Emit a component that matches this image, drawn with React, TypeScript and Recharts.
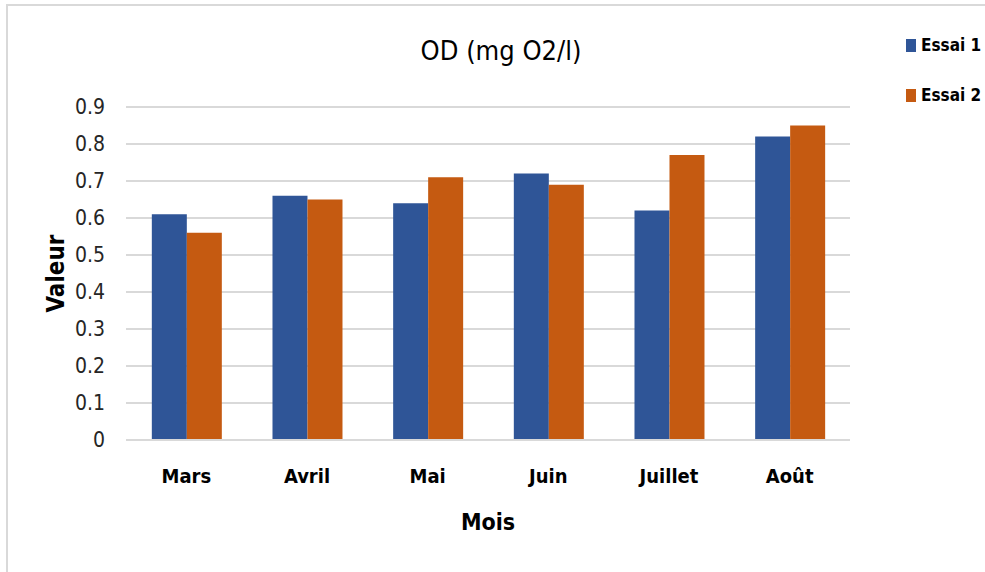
import React from 'react';
import { BarChart, Bar, XAxis, YAxis, CartesianGrid, Label } from 'recharts';

const months = ['Mars', 'Avril', 'Mai', 'Juin', 'Juillet', 'Août'];
const essai1 = [0.61, 0.66, 0.64, 0.72, 0.62, 0.82];
const essai2 = [0.56, 0.65, 0.71, 0.69, 0.77, 0.85];
const yTicks = [0, 0.1, 0.2, 0.3, 0.4, 0.5, 0.6, 0.7, 0.8, 0.9];

const data = months.map((m, i) => ({ mois: m, 'Essai 1': essai1[i], 'Essai 2': essai2[i] }));

const FONT = '"Liberation Sans Narrow", "DejaVu Sans Condensed", "Liberation Sans", sans-serif';
const BLUE = '#2F5597';
const ORANGE = '#C55A11';

const series = [
  { name: 'Essai 1', color: BLUE },
  { name: 'Essai 2', color: ORANGE },
];

const App = () => {
  return (
    <div style={{ position: 'absolute', left: 0, top: 0, width: 985, height: 572, overflow: 'hidden', background: '#fff' }}>
      <div style={{ position: 'absolute', left: 6, top: 4, width: 1000, height: 600, border: '2px solid #d9d9d9' }} />
      <div
        style={{
          position: 'absolute', left: 351, top: 37, width: 300, textAlign: 'center',
          fontFamily: FONT, fontSize: 27, lineHeight: '27px', color: '#000',
        }}
      >
        OD (mg O2/l)
      </div>

      {/* legend, top right */}
      <div style={{ position: 'absolute', left: 906, top: 20, fontFamily: FONT }}>
        {series.map(s => (
          <div key={s.name} style={{ display: 'flex', alignItems: 'center', height: 50, whiteSpace: 'nowrap' }}>
            <span style={{ display: 'inline-block', width: 10, height: 13, background: s.color, marginRight: 5 }} />
            <span style={{ fontSize: 17, fontWeight: 'bold', color: '#000' }}>{s.name}</span>
          </div>
        ))}
      </div>

      <BarChart
        width={985}
        height={572}
        data={data}
        margin={{ top: 107, right: 135, bottom: 42, left: 0 }}
        barCategoryGap="21.4%"
        barGap={0}
        style={{ position: 'absolute', left: 0, top: 0 }}
      >
        <CartesianGrid vertical={false} stroke="#d9d9d9" strokeWidth={2} />
        <XAxis
          dataKey="mois"
          height={90}
          axisLine={{ stroke: '#d9d9d9', strokeWidth: 2 }}
          tickLine={false}
          tickSize={0}
          tickMargin={29}
          tick={{ fontFamily: FONT, fontSize: 20, fontWeight: 'bold', fill: '#000' }}
        >
          <Label
            value="Mois"
            position="insideBottom"
            offset={0}
            style={{ fontFamily: FONT, fontSize: 23, fontWeight: 'bold', fill: '#000' }}
          />
        </XAxis>
        <YAxis
          width={126}
          domain={[0, 0.9]}
          ticks={yTicks}
          axisLine={false}
          tickLine={false}
          tickSize={0}
          tickMargin={21}
          tickFormatter={(v: number) => String(v)}
          tick={{ fontFamily: FONT, fontSize: 21, fill: '#262626' }}
        >
          <Label
            value="Valeur"
            angle={-90}
            position="insideLeft"
            offset={55}
            style={{ fontFamily: FONT, fontSize: 24, fontWeight: 'bold', fill: '#000', textAnchor: 'middle' }}
          />
        </YAxis>
        <Bar dataKey="Essai 1" fill={BLUE} isAnimationActive={false} />
        <Bar dataKey="Essai 2" fill={ORANGE} isAnimationActive={false} />
      </BarChart>
    </div>
  );
};

export default App;
